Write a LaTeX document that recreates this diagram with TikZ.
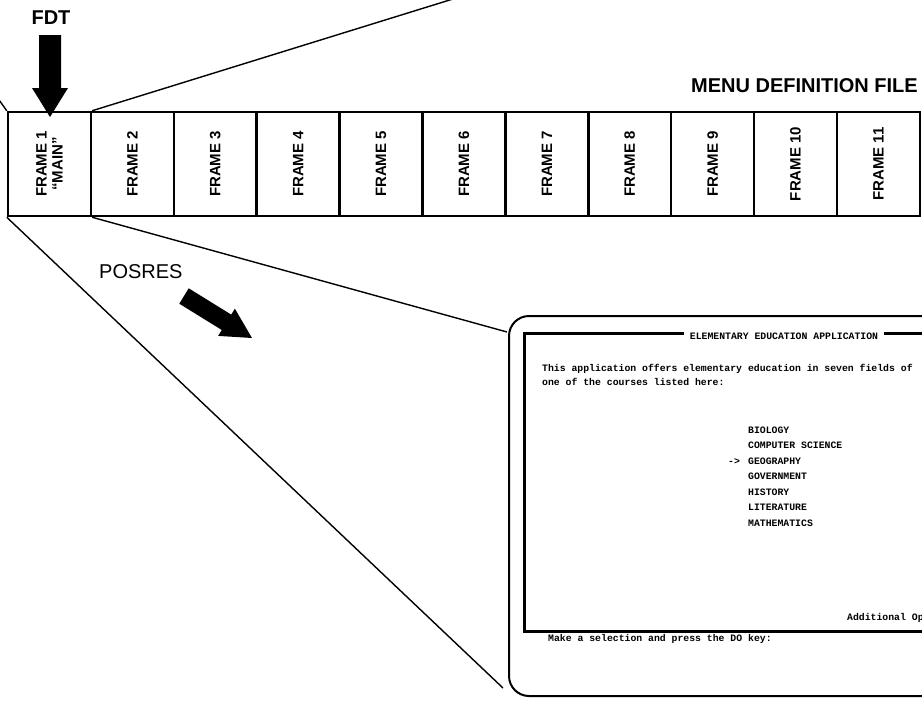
\documentclass[tikz,border=0pt]{standalone}
\usepackage{fontspec}
\setmainfont{Liberation Sans}
\setmonofont{Liberation Mono}
\usetikzlibrary{positioning}

\tikzset{
  framebox/.style={draw, line width=2.5pt, minimum width=82.9pt, minimum height=104pt, inner sep=0pt},
  framelabel/.style={rotate=90, font=\bfseries\fontsize{15}{16}\selectfont, align=center, inner sep=0pt},
  biglabel/.style={font=\bfseries\fontsize{20}{20}\selectfont, inner sep=0pt},
  zoomline/.style={line width=1.4pt},
  scrtext/.style={font=\ttfamily\bfseries\fontsize{9.8}{12}\selectfont, inner sep=0pt, anchor=base west},
}

\begin{document}
\begin{tikzpicture}[x=1pt, y=-1pt]
  \useasboundingbox (0,0) rectangle (922,707);
  \clip (0,0) rectangle (922,707);

  % menu definition file
  \foreach \i in {1,...,11}
    \node[framebox] (f\i) at ({8+82.9*(\i-0.5)},164) {};
  \foreach \i in {2,...,11}
    \node[framelabel] at (f\i) {FRAME \i};
  \node[framelabel] at (f1) {FRAME 1\\``MAIN''};
  \node[biglabel, anchor=base east] (mdf) at (918,92) {MENU DEFINITION FILE};

  % pointers
  \node[biglabel] (fdt) at (51,18) {FDT};
  \fill (39,35) -- (61,35) -- (61,88) -- (68,88) -- (50,117) -- (32,88) -- (39,88) -- cycle;
  \node[biglabel, font=\fontsize{20}{20}\selectfont, anchor=base west] (posres) at (99,278) {POSRES};
  \fill (188.7,288.3) -- (231.2,314.6) -- (234.9,308.7) -- (252,338) -- (218.1,335.9) -- (221.8,330.0) -- (179.3,303.7) -- cycle;

  % screen of frame 1
  \node[draw, line width=2pt, rounded corners=20pt, minimum width=492pt, minimum height=380pt, anchor=north west] (screen) at (508,315) {};
  \node[draw, line width=3pt, minimum width=477pt, minimum height=298pt, inner sep=0pt, anchor=north west] (display) at (523,332) {};
  \node[scrtext, anchor=center, fill=white, inner xsep=6pt, inner ysep=2pt] (title) at (784,336) {ELEMENTARY EDUCATION APPLICATION};
  \node[scrtext] (intro1) at (542,371) {This application offers elementary education in seven fields of};
  \node[scrtext] (intro2) at (542,385) {one of the courses listed here:};
  \foreach \course [count=\k from 0] in {BIOLOGY, COMPUTER SCIENCE, GEOGRAPHY, GOVERNMENT, HISTORY, LITERATURE, MATHEMATICS}
    \node[scrtext] (m\k) at (748,{433+15.5*\k}) {\course};
  \node[scrtext] (cursor) at ([xshift=-20pt]m2.base west) {->};
  \node[scrtext] (more) at (847,620) {Additional Op};
  \node[scrtext] (prompt) at (548,641) {Make a selection and press the DO key:};

  % zoom lines
  \coordinate (upleft) at (-8,90);
  \coordinate (upright) at (482,-10);
  \coordinate (scrtop) at (507,332);
  \coordinate (scrbot) at (503,688);
  \draw[zoomline] (f1.north west) -- (upleft);
  \draw[zoomline] (f1.north east) -- (upright);
  \draw[zoomline] (f1.south west) -- (scrbot);
  \draw[zoomline] (f1.south east) -- (scrtop);
\end{tikzpicture}
\end{document}
